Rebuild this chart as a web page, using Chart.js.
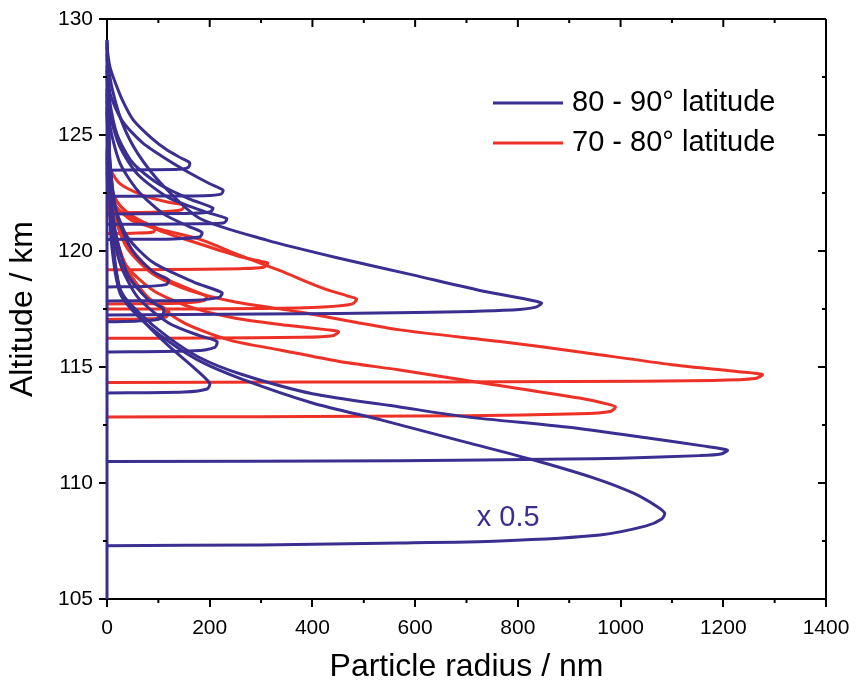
<!DOCTYPE html>
<html>
<head>
<meta charset="utf-8">
<script src="https://cdn.jsdelivr.net/npm/chart.js@4"></script>
<style>
  body { margin: 0; background: #fff; }
  canvas { display: block; }
</style>
</head>
<body>
<canvas id="myChart" width="860" height="690"></canvas>
<script>
// axis settings
var xTicks = [0, 200, 400, 600, 800, 1000, 1200, 1400];
var yTicks = [105, 110, 115, 120, 125, 130];
var seriesNames = ['80 - 90\u00b0 latitude', '70 - 80\u00b0 latitude'];

// 80 - 90 deg latitude profiles: [radius nm, altitude km]
var blue1 = [[0,129.1],[2,127.5],[4,125],[6,122.5],[8,120.5],[25,118.2],[60,117.2],[117,116.15],[181,115.25],[260,114.5],[400,113.45],[537,112.7],[700,111.75],[829,111.0],[950,110.2],[1024,109.57],[1070,109.0],[1086,108.7],[1080,108.45],[1050,108.15],[960,107.76],[765,107.5],[570,107.41],[300,107.33],[0,107.3]];
var blue2 = [[0,129],[2,127.5],[4,125],[6,122.6],[9,120.6],[26,118.3],[62,117.35],[118,116.3],[181,115.4],[260,114.7],[400,113.85],[570,113.28],[700,112.85],[895,112.41],[1050,111.95],[1160,111.6],[1208,111.42],[1195,111.25],[1154,111.18],[1000,111.07],[895,111.03],[570,110.96],[0,110.93]];
var blue3 = [[0,128.3],[10,127],[30,125.5],[60,124.2],[110,122.8],[181,121.4],[311,120.47],[450,119.7],[595,118.97],[726,118.3],[810,117.95],[846,117.76],[835,117.58],[790,117.46],[600,117.35],[300,117.28],[0,117.24]];
var blue4 = [[0,128.8],[5,128],[12,127.5],[30,126.5],[51,125.65],[85,124.9],[117,124.35],[145,124.0],[161,123.8],[158,123.6],[140,123.52],[80,123.5],[0,123.48]];
var blue5 = [[0,128.5],[6,126.8],[30,125.6],[70,124.65],[120,123.9],[161,123.36],[200,122.9],[226,122.63],[222,122.45],[190,122.38],[100,122.37],[0,122.36]];
var blue6 = [[0,128],[5,126.5],[20,125],[50,123.8],[100,122.9],[160,122.25],[206,121.85],[200,121.68],[150,121.62],[0,121.6]];
var blue7 = [[0,127.8],[5,126],[25,124.5],[60,123.3],[120,122.3],[190,121.7],[233,121.4],[228,121.22],[180,121.17],[0,121.15]];
var blue8 = [[0,127.5],[5,125.5],[25,123.8],[60,122.6],[110,121.6],[160,121.05],[185,120.8],[180,120.6],[130,120.52],[0,120.5]];
var blue9 = [[0,127],[4,124.5],[15,122],[40,120.6],[90,119.5],[170,118.65],[224,118.2],[218,118],[170,117.88],[0,117.85]];
var blue10 = [[0,126.5],[4,124],[10,121.5],[25,119.5],[60,118.0],[120,116.9],[180,116.35],[214,116.1],[210,115.85],[170,115.7],[0,115.65]];
var blue11 = [[0,126],[4,123.5],[9,121],[25,118.4],[62,117.2],[118,115.95],[170,114.95],[200,114.3],[195,114.05],[150,113.92],[0,113.88]];
var blue12 = [[0,126.8],[5,124],[20,121.5],[50,120],[90,119.1],[120,118.75],[115,118.55],[70,118.47],[0,118.45]];
var blue13 = [[0,126.2],[4,123.5],[15,121],[40,119],[80,117.9],[110,117.5],[105,117.1],[60,116.98],[0,116.95]];
// all blue profiles sit at zero radius below their lower edge
var blueBase = [[0,129.1],[0,105]];

// 70 - 80 deg latitude profiles
var red1 = [[0,124.3],[4,123],[15,121.5],[40,120.1],[90,119.0],[160,118.3],[250,117.8],[375,117.37],[570,116.6],[765,116.1],[920,115.65],[1100,115.1],[1230,114.8],[1276,114.68],[1262,114.5],[1180,114.42],[900,114.37],[400,114.35],[0,114.33]];
var red2 = [[0,123.8],[4,122.5],[15,120.8],[40,119.2],[80,118],[150,116.9],[239,116.16],[337,115.73],[450,115.25],[570,114.87],[750,114.25],[920,113.66],[975,113.4],[990,113.28],[980,113.08],[920,112.98],[700,112.9],[300,112.86],[0,112.85]];
var red3 = [[0,124.1],[4,123],[15,122],[50,121.3],[110,120.9],[181,120.5],[260,119.8],[337,119.15],[420,118.4],[470,118.05],[486,117.93],[478,117.72],[430,117.6],[300,117.52],[0,117.5]];
var red4 = [[0,123.6],[4,122],[15,120.5],[40,119.3],[90,118.3],[160,117.6],[250,117.1],[350,116.8],[430,116.6],[451,116.52],[440,116.35],[380,116.28],[200,116.25],[0,116.24]];
var red5 = [[0,124.2],[4,123.2],[15,122.3],[45,121.5],[100,120.9],[181,120.3],[260,119.75],[300,119.55],[313,119.48],[305,119.3],[260,119.24],[120,119.2],[0,119.19]];
var red6 = [[0,123.9],[4,122.8],[15,121.5],[40,120.3],[90,119.1],[150,118.45],[194,118.05],[188,117.85],[140,117.75],[0,117.72]];
var red7 = [[0,124.4],[5,123.6],[25,122.9],[70,122.4],[120,122.1],[150,121.98],[145,121.78],[100,121.68],[0,121.65]];
var red8 = [[0,124.0],[5,123],[20,122.1],[50,121.5],[80,121.15],[95,121.0],[90,120.82],[50,120.77],[0,120.75]];
var red9 = [[0,123.4],[4,121.8],[15,120.2],[40,118.9],[80,117.95],[120,117.4],[115,117.15],[70,117.07],[0,117.05]];

var blueCurves = [blueBase, blue1, blue2, blue3, blue4, blue5, blue6, blue7, blue8, blue9, blue10, blue11, blue12, blue13];
var redCurves = [red1, red2, red3, red4, red5, red6, red7, red8, red9];

var blueColor = '#3a2f91';
var redColor = '#ee3126';
var fontFamily = "'Liberation Sans', Arial, sans-serif";

function toPoints(curve) {
    return curve.map(function (p) { return {x: p[0], y: p[1]}; });
}

var datasets = [];
blueCurves.forEach(function (c) {
    datasets.push({data: toPoints(c), borderColor: blueColor, borderWidth: 3, showLine: true,
        pointRadius: 0, tension: 0.25, clip: false, fill: false});
});
redCurves.forEach(function (c) {
    datasets.push({data: toPoints(c), borderColor: redColor, borderWidth: 3, showLine: true,
        pointRadius: 0, tension: 0.25, clip: false, fill: false});
});

// frame, minor ticks, mirror ticks, legend and the "x 0.5" note
var framePlugin = {
    id: 'frame',
    afterDraw: function (chart) {
        var c = chart.ctx;
        var a = chart.chartArea;
        var xs = chart.scales.x;
        var ys = chart.scales.y;
        c.save();
        c.strokeStyle = '#000';
        c.lineWidth = 2;
        c.beginPath();
        c.moveTo(a.left, a.top); c.lineTo(a.right, a.top);
        c.moveTo(a.right, a.top); c.lineTo(a.right, a.bottom);
        // x ticks: every 100, major every 200
        for (var v = 0; v <= 1400; v += 100) {
            var px = xs.getPixelForValue(v);
            var major = v % 200 === 0;
            var len = major ? 8 : 4;
            c.moveTo(px, a.top); c.lineTo(px, a.top + len);
            if (!major) { c.moveTo(px, a.bottom); c.lineTo(px, a.bottom + len); }
        }
        // y ticks: every 2.5, major every 5
        for (var w = 105; w <= 130; w += 2.5) {
            var py = ys.getPixelForValue(w);
            var maj = w % 5 === 0;
            var l = maj ? 8 : 4;
            c.moveTo(a.right, py); c.lineTo(a.right - l, py);
            if (!maj) { c.moveTo(a.left, py); c.lineTo(a.left - l, py); }
        }
        c.stroke();

        // legend
        var lx = a.right - 333;
        var ly = [a.top + 84, a.top + 124];
        var cols = [blueColor, redColor];
        c.font = '29px ' + fontFamily;
        c.textBaseline = 'middle';
        c.textAlign = 'left';
        for (var i = 0; i < 2; i++) {
            c.strokeStyle = cols[i];
            c.lineWidth = 3;
            c.beginPath();
            c.moveTo(lx, ly[i]); c.lineTo(lx + 70, ly[i]);
            c.stroke();
            c.fillStyle = '#000';
            c.fillText(seriesNames[i], lx + 79, ly[i]);
        }

        // scale note for the lowest blue profile
        c.fillStyle = blueColor;
        c.font = '29px ' + fontFamily;
        c.fillText('x 0.5', xs.getPixelForValue(720), ys.getPixelForValue(108.5));
        c.restore();
    }
};

var ctx = document.getElementById('myChart').getContext('2d');
new Chart(ctx, {
    type: 'scatter',
    data: {datasets: datasets},
    options: {
        responsive: false,
        animation: false,
        layout: {padding: {top: 19, right: 34, left: 0, bottom: 0}},
        plugins: {
            legend: {display: false},
            tooltip: {enabled: false}
        },
        scales: {
            x: {
                type: 'linear', min: 0, max: 1400,
                afterBuildTicks: function (s) { s.ticks = xTicks.map(function (v) { return {value: v}; }); },
                ticks: {color: '#000', font: {size: 21, family: fontFamily}, padding: 9, maxRotation: 0,
                    callback: function (v) { return String(v); }},
                grid: {display: true, drawOnChartArea: false, drawTicks: true, tickLength: 8, color: '#000', lineWidth: 2},
                border: {display: true, color: '#000', width: 2},
                title: {display: true, text: 'Particle radius / nm', color: '#000',
                    font: {size: 32, family: fontFamily}, padding: {top: 0}},
                afterFit: function (s) { s.height = 91; }
            },
            y: {
                type: 'linear', min: 105, max: 130,
                afterBuildTicks: function (s) { s.ticks = yTicks.map(function (v) { return {value: v}; }); },
                ticks: {color: '#000', font: {size: 21, family: fontFamily}, padding: 6,
                    callback: function (v) { return String(v); }},
                grid: {display: true, drawOnChartArea: false, drawTicks: true, tickLength: 8, color: '#000', lineWidth: 2},
                border: {display: true, color: '#000', width: 2},
                title: {display: true, text: 'Altitude / km', color: '#000',
                    font: {size: 32, family: fontFamily}, padding: {bottom: 0}},
                afterFit: function (s) { s.width = 107; }
            }
        }
    },
    plugins: [framePlugin]
});
</script>
</body>
</html>
